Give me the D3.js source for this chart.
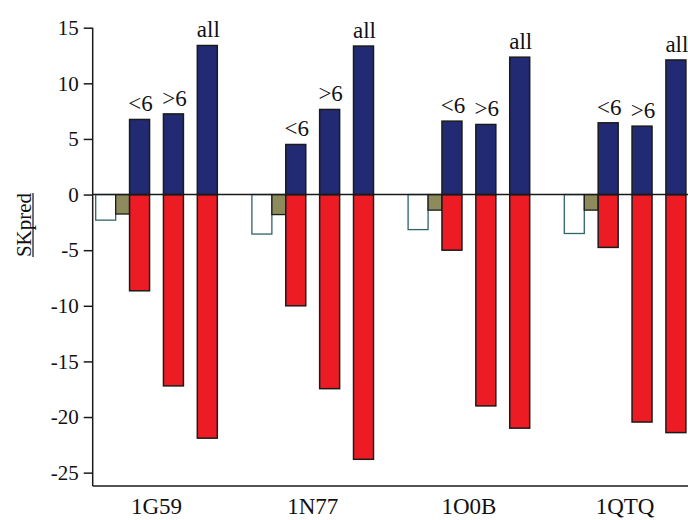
<!DOCTYPE html>
<html>
<head>
<meta charset="utf-8">
<script src="https://cdn.jsdelivr.net/npm/d3@7"></script>
<style>
  body { margin: 0; background: #fff; }
  svg { display: block; }
  svg text { font-family: "Liberation Serif", "Times New Roman", serif; }
</style>
</head>
<body>
<div id="chart"></div>
<script>
// proteins on the x axis
const categories = ['1G59', '1N77', '1O0B', '1QTQ'];
const subgroups = ['<6', '>6', 'all'];

// small reference bars (white + olive)
const whiteVals = [-2.3, -3.55, -3.15, -3.5];
const oliveVals = [-1.75, -1.8, -1.4, -1.4];

// positive (blue) and negative (red) parts, per subgroup
const blueVals = {
  '<6': [6.75, 4.5, 6.6, 6.45],
  '>6': [7.25, 7.65, 6.3, 6.15],
  all: [13.4, 13.35, 12.35, 12.1],
};
const redVals = {
  '<6': [-8.65, -10.0, -5.0, -4.75],
  '>6': [-17.2, -17.45, -19.0, -20.45],
  all: [-21.9, -23.8, -21.0, -21.4],
};

const yTicks = [15, 10, 5, 0, -5, -10, -15, -20, -25];

const width = 688;
const height = 520;
const axisX = 92.7;
const serif = '"Liberation Serif", "Times New Roman", serif';

const svg = d3.select('#chart')
  .append('svg')
  .attr('width', width)
  .attr('height', height);

const y = d3.scaleLinear()
  .domain([-26.2, 15])
  .range([486, 27.7]);

const x = d3.scaleBand()
  .domain(categories)
  .range([95.7, 685.9])
  .paddingInner(0.2215)
  .paddingOuter(0);

const xs = d3.scaleBand()
  .domain(['ref'].concat(subgroups))
  .range([0, x.bandwidth()])
  .paddingInner(0.41)
  .paddingOuter(0);

const bw = xs.bandwidth();
const stroke = '#1b1b1b';

// y axis
const yAxis = svg.append('g')
  .attr('transform', `translate(${axisX},0)`)
  .attr('font-family', serif)
  .call(d3.axisLeft(y).tickValues(yTicks).tickSize(9).tickPadding(5)
    .tickFormat(d => String(d)));
yAxis.attr('font-family', serif).attr('font-size', 21);
yAxis.select('.domain').remove();
yAxis.selectAll('line').attr('stroke', stroke).attr('stroke-width', 1.5);
yAxis.selectAll('text').attr('fill', '#111');

svg.append('line')
  .attr('x1', axisX).attr('x2', axisX)
  .attr('y1', y(15)).attr('y2', y(-26.2))
  .attr('stroke', stroke).attr('stroke-width', 1.5);

// bottom axis line
svg.append('line')
  .attr('x1', axisX).attr('x2', width)
  .attr('y1', y(-26.2)).attr('y2', y(-26.2))
  .attr('stroke', stroke).attr('stroke-width', 1.5);

// category labels
svg.append('g').selectAll('text')
  .data(categories)
  .join('text')
  .attr('x', d => x(d) + x.bandwidth() / 2)
  .attr('y', 514)
  .attr('text-anchor', 'middle')
  .attr('font-family', serif)
  .attr('font-size', 23)
  .attr('fill', '#111')
  .text(d => d);

// white and olive reference bars
const refG = svg.append('g');
refG.selectAll('rect.white')
  .data(categories)
  .join('rect')
  .attr('class', 'white')
  .attr('x', d => x(d) + xs('ref'))
  .attr('y', y(0))
  .attr('width', bw)
  .attr('height', (d, i) => y(whiteVals[i]) - y(0))
  .attr('fill', '#fff')
  .attr('stroke', '#2f6466')
  .attr('stroke-width', 1.3);

refG.selectAll('rect.olive')
  .data(categories)
  .join('rect')
  .attr('class', 'olive')
  .attr('x', d => x(d) + xs('ref') + bw)
  .attr('y', y(0))
  .attr('width', xs.step() - bw)
  .attr('height', (d, i) => y(oliveVals[i]) - y(0))
  .attr('fill', '#8d8b5b')
  .attr('stroke', stroke)
  .attr('stroke-width', 1.3);

// blue / red bars per subgroup
const barData = [];
categories.forEach((c, i) => {
  subgroups.forEach((s) => {
    barData.push({ cat: c, sub: s, pos: blueVals[s][i], neg: redVals[s][i] });
  });
});

const barG = svg.append('g');
barG.selectAll('rect.neg')
  .data(barData)
  .join('rect')
  .attr('class', 'neg')
  .attr('x', d => x(d.cat) + xs(d.sub))
  .attr('y', y(0))
  .attr('width', bw)
  .attr('height', d => y(d.neg) - y(0))
  .attr('fill', '#ed1c24')
  .attr('stroke', stroke)
  .attr('stroke-width', 1.5);

barG.selectAll('rect.pos')
  .data(barData)
  .join('rect')
  .attr('class', 'pos')
  .attr('x', d => x(d.cat) + xs(d.sub))
  .attr('y', d => y(d.pos))
  .attr('width', bw)
  .attr('height', d => y(0) - y(d.pos))
  .attr('fill', '#222a73')
  .attr('stroke', stroke)
  .attr('stroke-width', 1.5);

barG.selectAll('text')
  .data(barData)
  .join('text')
  .attr('x', d => x(d.cat) + xs(d.sub) + bw / 2 + 1)
  .attr('y', d => y(d.pos) - 8)
  .attr('text-anchor', 'middle')
  .attr('font-family', serif)
  .attr('font-size', 23)
  .attr('fill', '#111')
  .text(d => d.sub);

// zero line
svg.append('line')
  .attr('x1', axisX).attr('x2', width)
  .attr('y1', y(0)).attr('y2', y(0))
  .attr('stroke', stroke).attr('stroke-width', 1.5);

// y axis title, underlined
const title = svg.append('text')
  .attr('transform', 'translate(31,225) rotate(-90)')
  .attr('text-anchor', 'middle')
  .attr('font-family', serif)
  .attr('font-size', 21)
  .attr('fill', '#111')
  .text('SKpred');
const tl = title.node().getComputedTextLength();
svg.append('line')
  .attr('x1', 33).attr('x2', 33)
  .attr('y1', 225 - tl / 2).attr('y2', 225 + tl / 2)
  .attr('stroke', '#111').attr('stroke-width', 1.2);
</script>
</body>
</html>
